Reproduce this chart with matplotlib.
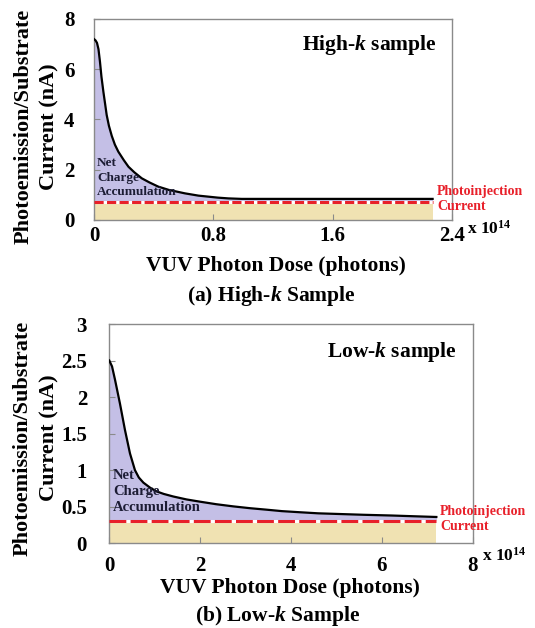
import matplotlib
matplotlib.use("Agg")
import matplotlib.pyplot as plt

plt.rcParams['font.family'] = ['Liberation Serif', 'DejaVu Serif']
plt.rcParams['font.weight'] = 'bold'
plt.rcParams['mathtext.fontset'] = 'custom'
plt.rcParams['mathtext.rm'] = 'Liberation Serif:bold'
plt.rcParams['mathtext.it'] = 'Liberation Serif:bold:italic'
plt.rcParams['mathtext.bf'] = 'Liberation Serif:bold'

# ---- data: (a) High-k sample, dose in 1e14 photons, current in nA
hk_dose = [0.0, 0.01, 0.02, 0.03, 0.04, 0.05, 0.063, 0.075, 0.085, 0.1,
           0.119, 0.14, 0.163, 0.2, 0.231, 0.27, 0.32, 0.37, 0.43, 0.5,
           0.61, 0.7, 0.83, 0.9, 0.99, 1.3, 1.7, 2.0, 2.27]
hk_current = [7.2, 7.15, 7.05, 6.8, 6.3, 5.7, 5.1, 4.6, 4.18, 3.75,
              3.35, 3.0, 2.72, 2.38, 2.12, 1.9, 1.66, 1.5, 1.33, 1.2,
              1.06, 0.97, 0.89, 0.86, 0.84, 0.84, 0.84, 0.84, 0.84]
hk_photoinjection = 0.70

# ---- data: (b) Low-k sample
lk_dose = [0.0, 0.06, 0.125, 0.235, 0.345, 0.455, 0.565, 0.65, 0.75, 0.9,
           1.04, 1.2, 1.41, 1.7, 1.99, 2.35, 2.73, 3.1, 3.46, 3.8, 4.19,
           4.6, 5.1, 5.6, 6.22, 6.7, 7.2]
lk_current = [2.5, 2.42, 2.24, 1.91, 1.55, 1.23, 1.00, 0.9, 0.83, 0.76,
              0.71, 0.675, 0.64, 0.6, 0.57, 0.535, 0.505, 0.48, 0.46, 0.44,
              0.425, 0.41, 0.4, 0.39, 0.38, 0.37, 0.36]
lk_photoinjection = 0.31

hk_xticks = [0, 0.8, 1.6, 2.4]
hk_xticklabels = ['0', '0.8', '1.6', '2.4']
hk_yticks = [0, 2, 4, 6, 8]
lk_xticks = [0, 2, 4, 6, 8]
lk_yticks = [0, 0.5, 1, 1.5, 2, 2.5, 3]
lk_yticklabels = ['0', '0.5', '1', '1.5', '2', '2.5', '3']

LAV = '#c4bfe6'
TAN = '#f0e2b2'
RED = '#e8202a'
GRAY = '#8a8a8a'

W, H = 535, 628
fig = plt.figure(figsize=(W / 100, H / 100), dpi=100)


def fpos(x, y):
    return x / W, 1 - y / H


def panel(rect, dose, cur, pinj, xlim, ylim, xticks, xtl, yticks, ytl,
          ypad, xpad, dashes, inner_label, net_xy, net_fs, pi_xy, x10_xy,
          ylab_xy, xlab_xy, cap_xy, caption):
    ax = fig.add_axes(rect)
    ax.fill_between(dose, 0, pinj, color=TAN, lw=0, zorder=1)
    ax.fill_between(dose, pinj, cur, color=LAV, lw=0, zorder=1)
    ax.plot([dose[0], dose[-1]], [pinj, pinj], color='white', lw=2.2,
            solid_capstyle='butt', zorder=2)
    ax.plot([dose[0], dose[-1]], [pinj, pinj], color=RED, lw=2.2,
            dashes=dashes, dash_capstyle='butt', zorder=3)
    ax.plot(dose, cur, color='black', lw=1.6, zorder=4,
            solid_joinstyle='round')
    ax.set_xlim(*xlim)
    ax.set_ylim(*ylim)
    ax.set_xticks(xticks)
    ax.set_xticklabels(xtl)
    ax.set_yticks(yticks)
    ax.set_yticklabels(ytl)
    for s in ax.spines.values():
        s.set_color(GRAY)
        s.set_linewidth(1.0)
    ax.tick_params(axis='both', direction='in', length=4, width=0.8,
                   color=GRAY, labelsize=15)
    ax.tick_params(axis='y', pad=ypad)
    ax.tick_params(axis='x', pad=xpad)
    for t in ax.get_xticklabels() + ax.get_yticklabels():
        t.set_fontweight('bold')
    ax.text(0.957, 0.872, inner_label, transform=ax.transAxes, ha='right',
            va='center', fontsize=15.5, fontweight='bold')
    x, y = fpos(*net_xy)
    fig.text(x, y, 'Net\nCharge\nAccumulation', ha='left', va='top',
             fontsize=net_fs, fontweight='bold', color='#1c1c34',
             linespacing=1.3)
    x, y = fpos(*pi_xy)
    fig.text(x, y, 'Photoinjection\nCurrent', ha='left', va='center',
             fontsize=10, fontweight='bold', color=RED, linespacing=1.3)
    x, y = fpos(*x10_xy)
    fig.text(x, y, 'x 10$^{14}$', ha='left', va='center', fontsize=12.5,
             fontweight='bold')
    x, y = fpos(*ylab_xy)
    fig.text(x, y, 'Photoemission/Substrate\nCurrent (nA)', rotation=90,
             ha='center', va='center', fontsize=16, fontweight='bold',
             linespacing=1.45, multialignment='center')
    x, y = fpos(*xlab_xy)
    fig.text(x, y, 'VUV Photon Dose (photons)', ha='center', va='center',
             fontsize=15.5, fontweight='bold')
    x, y = fpos(*cap_xy)
    fig.text(x, y, caption, ha='center', va='center', fontsize=15.5,
             fontweight='bold')
    return ax


panel([94 / W, 1 - 220 / H, 358 / W, 201 / H], hk_dose, hk_current,
      hk_photoinjection, (0, 2.4), (0, 8), hk_xticks, hk_xticklabels,
      hk_yticks, [str(v) for v in hk_yticks], 14, 4, (3.0, 1.1),
      'High-$k$ sample', (97, 157), 9.5, (437, 199), (467, 229),
      (36.5, 126.5), (275.5, 266), (271, 296.5), '(a) High-$k$ Sample')

panel([109.3 / W, 1 - 543.3 / H, 363.4 / W, 219.3 / H], lk_dose, lk_current,
      lk_photoinjection, (0, 8), (0, 3), lk_xticks,
      [str(v) for v in lk_xticks], lk_yticks, lk_yticklabels, 16, 9,
      (5.5, 1.4), 'Low-$k$ sample', (113, 469), 10.5, (440, 519),
      (482, 556), (36, 438), (290, 588), (278, 616.5),
      '(b) Low-$k$ Sample')

fig.savefig('out.png', dpi=100)
